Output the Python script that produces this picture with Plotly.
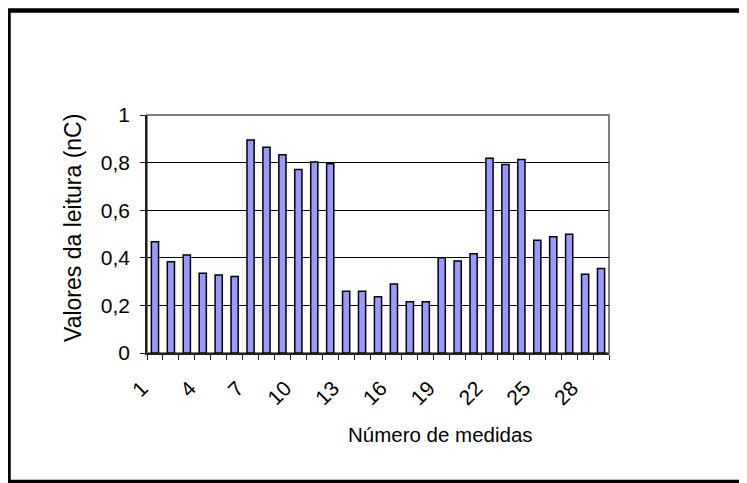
import plotly.graph_objects as go

# leituras por medida (nC)
medidas = list(range(1, 30))
leituras = [
    0.467, 0.383, 0.412, 0.335, 0.328, 0.321,
    0.895, 0.864, 0.833, 0.771, 0.802, 0.795,
    0.259, 0.259, 0.236, 0.290, 0.215, 0.215,
    0.400, 0.387, 0.417, 0.818, 0.792, 0.813,
    0.474, 0.488, 0.499, 0.331, 0.355,
]
x_ticks = list(range(1, 30, 3))
x_ticktext = [str(v) for v in x_ticks]
y_ticks = [0, 0.2, 0.4, 0.6, 0.8, 1]
y_ticktext = ["0", "0,2", "0,4", "0,6", "0,8", "1"]

W, H = 747, 483
L, R, T, B = 139, 146, 107, 138
pw, ph = W - L - R, H - T - B


def px(x):
    return (x - L) / pw


def py(y):
    return (H - B - y) / ph


font = "Liberation Sans, Arial, sans-serif"

fig = go.Figure(
    go.Bar(
        x=medidas,
        y=leituras,
        width=0.45,
        marker=dict(color="#9999FF", line=dict(color="black", width=1.5)),
    )
)

fig.update_layout(
    width=W,
    height=H,
    margin=dict(l=L, r=R, t=T, b=B),
    paper_bgcolor="white",
    plot_bgcolor="white",
    showlegend=False,
    font=dict(family=font, size=21, color="black"),
    shapes=[
        # moldura da área do gráfico
        dict(type="rect", xref="paper", yref="paper", x0=0, x1=1, y0=0, y1=1,
             line=dict(color="#808080", width=2), layer="below"),
        # moldura exterior
        dict(type="rect", xref="paper", yref="paper",
             x0=px(0.5), x1=px(760), y0=py(474), y1=py(2.5),
             line=dict(color="black", width=4.5)),
    ],
    annotations=[
        dict(text="Valores da leitura (nC)", xref="paper", yref="paper",
             x=px(50), y=py(220), textangle=-90, showarrow=False,
             font=dict(size=23)),
        dict(text="Número de medidas", xref="paper", yref="paper",
             x=px(432.5), y=py(440), showarrow=False, font=dict(size=20.5)),
    ],
)

fig.update_xaxes(
    range=[0.5, 29.5],
    tickvals=x_ticks,
    ticktext=x_ticktext,
    tickangle=-45,
    ticks="",
    ticklabelstandoff=13,
    ticklabelshift=-13,
    showgrid=False,
    zeroline=False,
    showline=True,
    linecolor="#202020",
    linewidth=1.5,
    minor=dict(tick0=0.5, dtick=1, ticks="outside", ticklen=5,
               tickcolor="#202020", tickwidth=1, showgrid=False),
)

fig.update_yaxes(
    range=[0, 1],
    tickvals=y_ticks,
    ticktext=y_ticktext,
    ticks="outside",
    ticklen=5,
    tickcolor="#202020",
    ticklabelstandoff=6,
    showgrid=True,
    gridcolor="black",
    gridwidth=1,
    zeroline=False,
    showline=True,
    linecolor="#202020",
    linewidth=1.5,
)

fig.write_html("out.html")
